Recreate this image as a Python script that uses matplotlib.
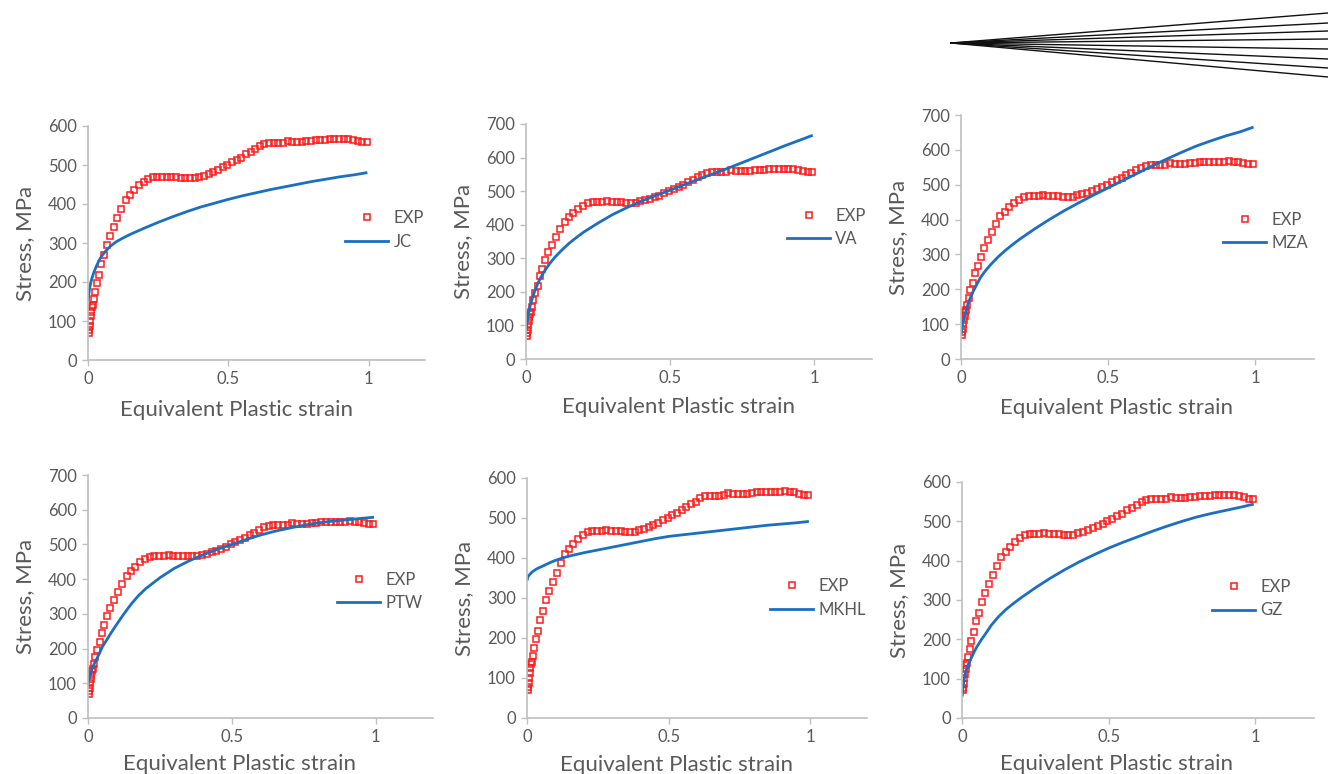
import matplotlib
matplotlib.use("Agg")
import matplotlib.pyplot as plt

plt.rcParams['font.family'] = ['Lato', 'DejaVu Sans']

# experimental flow curve (same in every panel)
exp_strain = [0.002, 0.005, 0.006, 0.007, 0.009, 0.012, 0.014, 0.018, 0.021, 0.026,
              0.032, 0.040, 0.047, 0.057, 0.067, 0.078, 0.091, 0.105, 0.119, 0.134,
              0.149, 0.164, 0.181, 0.198, 0.214, 0.231, 0.247, 0.264, 0.280, 0.297,
              0.314, 0.330, 0.347, 0.363, 0.380, 0.396, 0.413, 0.430, 0.446, 0.463,
              0.479, 0.496, 0.512, 0.529, 0.546, 0.562, 0.579, 0.595, 0.612, 0.628,
              0.645, 0.662, 0.678, 0.695, 0.711, 0.728, 0.745, 0.761, 0.778, 0.794,
              0.811, 0.827, 0.844, 0.861, 0.877, 0.894, 0.910, 0.927, 0.943, 0.960,
              0.977, 0.993]
exp_stress = [70, 77, 87, 101, 113, 124, 135, 141, 156, 175,
              197, 218, 246, 268, 294, 318, 340, 363, 387, 409,
              423, 436, 448, 457, 464, 468, 468, 468, 470, 468,
              468, 467, 466, 466, 466, 470, 473, 477, 482, 487,
              494, 500, 507, 513, 519, 528, 534, 541, 549, 554,
              556, 556, 556, 557, 562, 559, 559, 560, 561, 562,
              564, 564, 565, 566, 566, 566, 567, 566, 564, 561,
              558, 558]

# model curves, all read at the same strains
model_strain = [0.001, 0.003, 0.006, 0.01, 0.015, 0.02, 0.03, 0.04, 0.05, 0.065,
                0.08, 0.1, 0.125, 0.15, 0.175, 0.2, 0.25, 0.3, 0.35, 0.4,
                0.45, 0.5, 0.55, 0.6, 0.65, 0.7, 0.75, 0.8, 0.85, 0.9,
                0.95, 0.99]
jc_stress = [152, 170, 185, 199, 212, 223, 241, 256, 268, 281,
             292, 303, 313, 322, 330, 338, 353, 367, 380, 392,
             402, 412, 421, 429, 437, 444, 451, 458, 464, 470,
             475, 480]
va_stress = [86, 105, 125, 142, 160, 176, 202, 223, 241, 263,
             282, 303, 325, 345, 362, 378, 405, 430, 451, 470,
             487, 503, 520, 536, 552, 568, 585, 602, 619, 636,
             652, 665]
mza_stress = [74, 90, 105, 118, 133, 148, 172, 192, 208, 232,
              250, 270, 292, 311, 328, 344, 373, 400, 425, 448,
              470, 491, 512, 533, 554, 574, 593, 611, 626, 640,
              652, 664]
ptw_stress = [100, 110, 120, 130, 142, 153, 170, 187, 205, 225,
              245, 270, 300, 328, 352, 372, 404, 431, 452, 470,
              486, 500, 514, 527, 538, 547, 555, 562, 567, 571,
              575, 578]
mkhl_stress = [347, 352, 356, 359, 363, 366, 371, 375, 378, 383,
               388, 394, 400, 405, 409, 413, 420, 427, 434, 441,
               448, 454, 458, 462, 466, 470, 474, 478, 482, 485,
               488, 491]
gz_stress = [58, 75, 92, 108, 122, 133, 150, 166, 180, 198,
             214, 236, 258, 276, 291, 305, 331, 355, 377, 397,
             415, 432, 447, 461, 475, 488, 500, 511, 520, 528,
             536, 543]

# stray pen strokes in the top-right corner of the scan (pixel coords)
fan_origin = (951, 43)
fan_end_x = 1328
fan_end_y = [13, 23, 31, 39, 49, 59, 68, 77]

W, H = 1328, 774
GRAY = '#595959'
AXGRAY = '#bfbfbf'
BLUE = '#1a6fc4'


def px_rect(x0, x1, y0, y1):
    """axes rect from pixel box (top-left origin)"""
    return [x0 / W, (H - y1) / H, (x1 - x0) / W, (y1 - y0) / H]


def draw_panel(fig, box, model, label, ymax, leg_xy, xlab_off):
    ax = fig.add_axes(px_rect(*box))
    ax.plot(exp_strain, exp_stress, ls='none', marker='s', ms=4.4,
            mfc='none', mec='#ff1a1a', mew=1.1, label='EXP')
    ax.plot(model_strain, model, color=BLUE, lw=2.0, label=label)
    ax.set_xlim(0, 1.2)
    ax.set_ylim(0, ymax)
    ax.set_xticks([0, 0.5, 1])
    ax.set_xticklabels(['0', '0.5', '1'])
    ax.set_yticks(range(0, ymax + 1, 100))
    for s in ['top', 'right']:
        ax.spines[s].set_visible(False)
    for s in ['left', 'bottom']:
        ax.spines[s].set_color(AXGRAY)
        ax.spines[s].set_linewidth(1.2)
    ax.tick_params(colors=AXGRAY, labelcolor=GRAY, labelsize=12,
                   length=4, width=1.0, pad=4)
    ax.set_ylabel('Stress, MPa', fontsize=16, color=GRAY, labelpad=9)
    ax.set_xlabel('Equivalent Plastic strain', fontsize=16, color=GRAY)
    h = box[3] - box[2]
    ax.xaxis.set_label_coords(0.44, -xlab_off / h)
    ax.legend(loc='center left', bbox_to_anchor=leg_xy, frameon=False,
              fontsize=12, borderpad=0, borderaxespad=0, handlelength=2.6,
              handletextpad=0.3, labelspacing=0.45, labelcolor=GRAY)
    return ax


def main():
    fig = plt.figure(figsize=(W / 100, H / 100), dpi=100)

    draw_panel(fig, (88, 425, 126, 360), jc_stress, 'JC', 600, (0.763, 0.556), 40)
    draw_panel(fig, (526, 872, 124, 359), va_stress, 'VA', 700, (0.754, 0.560), 38)
    draw_panel(fig, (961, 1314, 115, 359), mza_stress, 'MZA', 700, (0.742, 0.523), 39)
    draw_panel(fig, (88, 433, 475, 718), ptw_stress, 'PTW', 700, (0.722, 0.521), 36)
    draw_panel(fig, (527, 867, 478, 718), mkhl_stress, 'MKHL', 600, (0.715, 0.500), 37)
    draw_panel(fig, (962, 1314, 482, 718), gz_stress, 'GZ', 600, (0.710, 0.506), 36)

    # overlay for the pen strokes
    over = fig.add_axes([0, 0, 1, 1], zorder=-1)
    over.set_xlim(0, W)
    over.set_ylim(H, 0)
    over.axis('off')
    for ye in fan_end_y:
        over.plot([fan_origin[0], fan_end_x], [fan_origin[1], ye],
                  color='#111111', lw=1.0)

    fig.savefig('out.png', dpi=100)


if __name__ == "__main__":
    main()
